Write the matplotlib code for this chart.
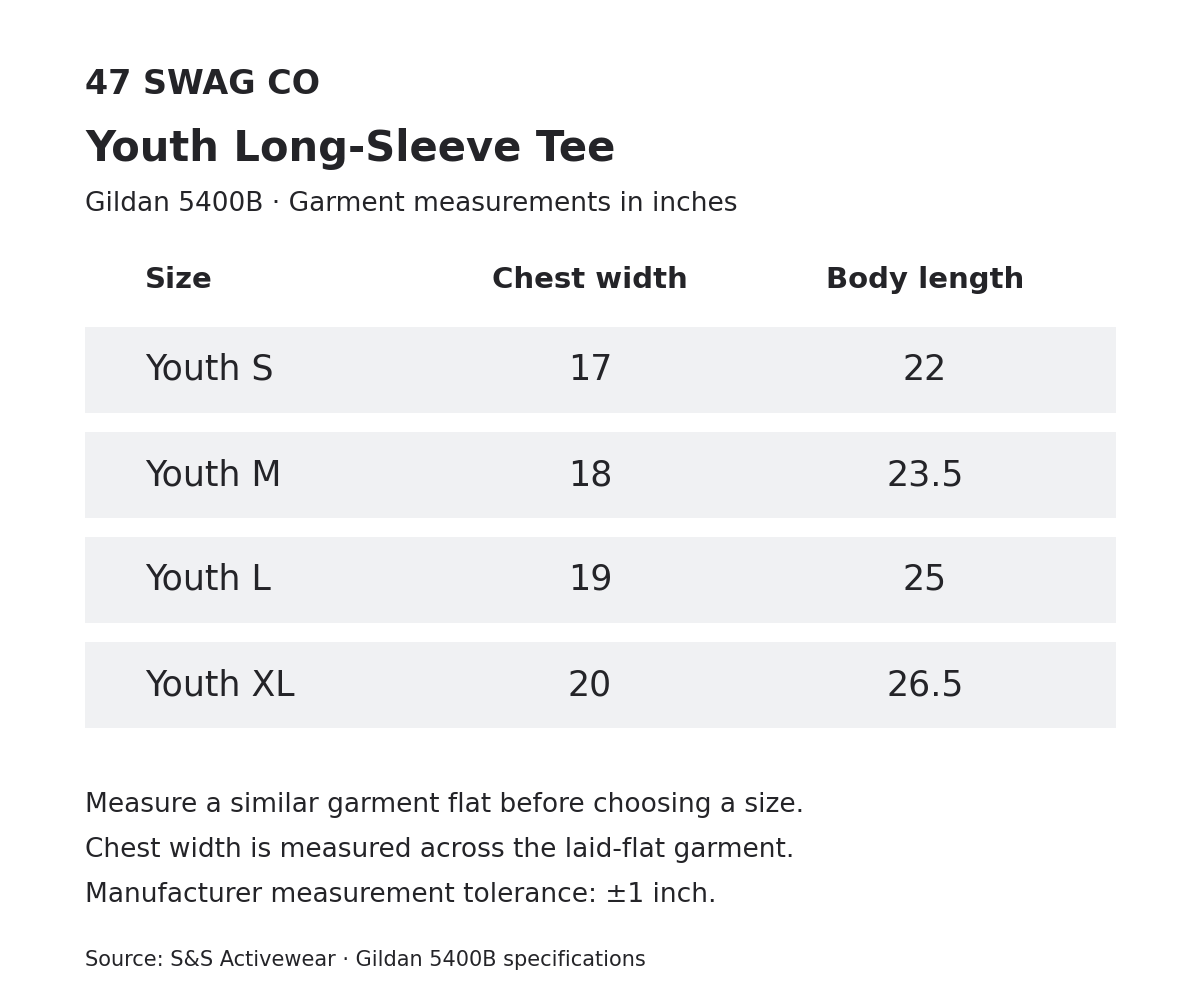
import matplotlib
matplotlib.use("Agg")
import matplotlib.pyplot as plt
from matplotlib.patches import Rectangle

brand = "47 SWAG CO"
title = "Youth Long-Sleeve Tee"
subtitle = "Gildan 5400B · Garment measurements in inches"
headers = ["Size", "Chest width", "Body length"]
sizes = ["Youth S", "Youth M", "Youth L", "Youth XL"]
chest = ["17", "18", "19", "20"]
body = ["22", "23.5", "25", "26.5"]
notes = ["Measure a similar garment flat before choosing a size.",
         "Chest width is measured across the laid-flat garment.",
         "Manufacturer measurement tolerance: ±1 inch."]
source = "Source: S&S Activewear · Gildan 5400B specifications"

C = "#242428"
fig = plt.figure(figsize=(12, 10), dpi=100)
ax = fig.add_axes([0, 0, 1, 1])
ax.set_xlim(0, 1200); ax.set_ylim(1000, 0); ax.axis("off")

ax.text(85, 84, brand, fontsize=24, fontweight="bold", color=C, va="center")
ax.text(85, 149, title, fontsize=30, fontweight="bold", color=C, va="center")
ax.text(85, 204, subtitle, fontsize=19, color=C, va="center")

colx = [145, 590, 925]
ha = ["left", "center", "center"]
for x, h, t in zip(colx, ha, headers):
    ax.text(x, 280, t, fontsize=21, fontweight="bold", color=C, ha=h, va="center")

for i, (s, c, b) in enumerate(zip(sizes, chest, body)):
    top = 327 + i * 105
    ax.add_patch(Rectangle((85, top), 1031, 86, facecolor="#f0f1f3", edgecolor="none"))
    yc = top + 43
    for x, h, t in zip(colx, ha, [s, c, b]):
        ax.text(x, yc, t, fontsize=25, color=C, ha=h, va="center")

for j, n in enumerate(notes):
    ax.text(85, 805 + j * 45, n, fontsize=19, color=C, va="center")
ax.text(85, 960, source, fontsize=15, color=C, va="center")

fig.savefig("out.png", dpi=100, facecolor="white")
